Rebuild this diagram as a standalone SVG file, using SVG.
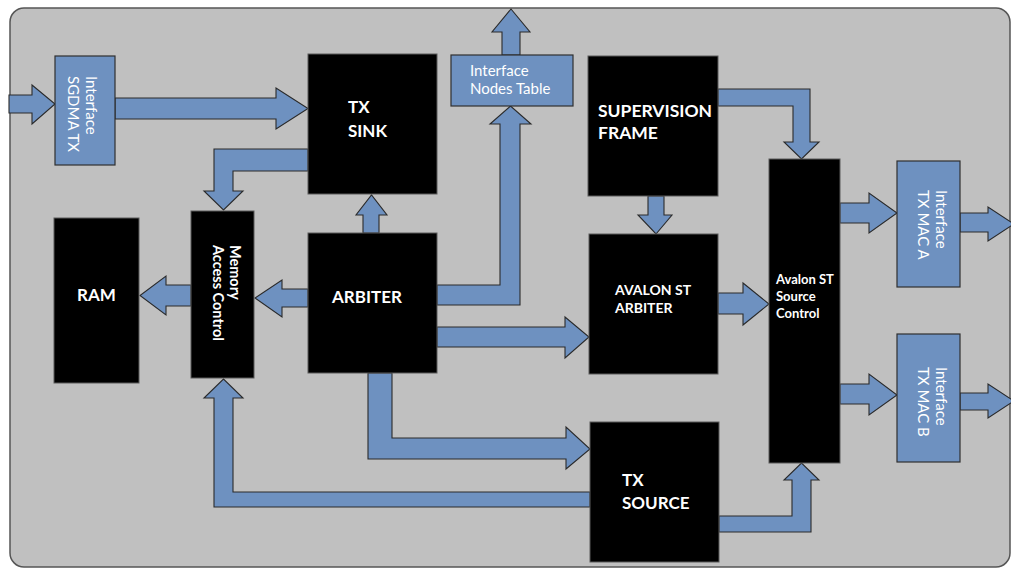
<svg xmlns="http://www.w3.org/2000/svg" width="1011" height="571" viewBox="0 0 1011 571">
  <style>
    .bg { fill: #c0c0c0; stroke: #555; stroke-width: 1.5; }
    .blk { fill: #000; stroke: #5a5a5a; stroke-width: 1; }
    .ifc { fill: #6e91c0; stroke: #2f2f2f; stroke-width: 1.2; }
    .arr { fill: #6e91c0; stroke: #2a2a2a; stroke-width: 1.1; stroke-linejoin: miter; }
    .big { font-family: Lato, "Liberation Sans", sans-serif; font-weight: bold; font-size: 17px; fill: #fff; }
    .mid { font-family: Lato, "Liberation Sans", sans-serif; font-weight: bold; font-size: 14px; fill: #fff; }
    .sml { font-family: Lato, "Liberation Sans", sans-serif; font-weight: bold; font-size: 13px; fill: #fff; }
    .reg { font-family: Lato, "Liberation Sans", sans-serif; font-size: 15px; fill: #fff; }
  </style>

  <rect width="1011" height="571" fill="#fff"/>
  <rect class="bg" x="10" y="8" width="1000" height="559" rx="14" ry="14"/>

  <g id="connectors">
    <!-- external input into SGDMA interface -->
    <polygon class="arr" points="9,95 32,95 32,85 55,104 32,124 32,113 9,113"/>
    <!-- SGDMA -> TX SINK -->
    <polygon class="arr" points="115,98 276,98 276,88 308,108.5 276,129 276,119 115,119"/>
    <!-- TX SINK -> Memory Access Control -->
    <polygon class="arr" points="308,149 214,149 214,191 204,191 223.5,210 243,191 233,191 233,171 308,171"/>
    <!-- ARBITER -> TX SINK -->
    <polygon class="arr" points="363,233 363,215 356,215 371.5,195 387,215 379,215 379,233"/>
    <!-- ARBITER -> Memory Access Control -->
    <polygon class="arr" points="308,289 282,289 282,280 255,298 282,317 282,307 308,307"/>
    <!-- Memory Access Control -> RAM -->
    <polygon class="arr" points="191,285 166,285 166,276 140,295.5 166,315 166,306 191,306"/>
    <!-- ARBITER -> Interface Nodes Table -->
    <polygon class="arr" points="437,285 500,285 500,124 490,124 510.5,106 531,124 520,124 520,305 437,305"/>
    <!-- Interface Nodes Table -> outside -->
    <polygon class="arr" points="502,55 502,32 492,32 511,9 530,32 520,32 520,55"/>
    <!-- ARBITER -> AVALON ST ARBITER -->
    <polygon class="arr" points="437,327 565,327 565,317 589,337 565,358 565,347 437,347"/>
    <!-- ARBITER -> TX SOURCE -->
    <polygon class="arr" points="368,373 368,459 566,459 566,469 590,449 566,427 566,438 392,438 392,373"/>
    <!-- TX SOURCE -> Memory Access Control -->
    <polygon class="arr" points="590,492 233,492 233,398 243,398 223.5,379 204,398 214,398 214,507 590,507"/>
    <!-- TX SOURCE -> Avalon ST Source Control -->
    <polygon class="arr" points="719,516 792,516 792,480 784,480 801.5,463 819,480 811,480 811,532 719,532"/>
    <!-- SUPERVISION FRAME -> Avalon ST Source Control -->
    <polygon class="arr" points="718,89 810,89 810,142 819,142 801.5,159 784,142 793,142 793,106 718,106"/>
    <!-- SUPERVISION FRAME -> AVALON ST ARBITER -->
    <polygon class="arr" points="648,196 648,215 638,215 656,234 672,215 664,215 664,196"/>
    <!-- AVALON ST ARBITER -> Avalon ST Source Control -->
    <polygon class="arr" points="718,293 743,293 743,283 769,304 743,325 743,314 718,314"/>
    <!-- Source Control -> TX MAC A -->
    <polygon class="arr" points="840,203 869,203 869,193 897,213 869,233 869,223 840,223"/>
    <!-- TX MAC A -> outside -->
    <polygon class="arr" points="960,213 988,213 988,207 1014,224 988,241 988,232 960,232"/>
    <!-- Source Control -> TX MAC B -->
    <polygon class="arr" points="840,384 869,384 869,374 897,395 869,415 869,404 840,404"/>
    <!-- TX MAC B -> outside -->
    <polygon class="arr" points="960,393 988,393 988,384 1014,401 988,418 988,410 960,410"/>
  </g>

  <g id="sgdma-tx">
    <rect class="ifc" x="55" y="56" width="60" height="109"/>
    <text class="reg" transform="translate(86,76) rotate(90)">Interface</text>
    <text class="reg" transform="translate(68,76) rotate(90)">SGDMA TX</text>
  </g>

  <g id="tx-sink">
    <rect class="blk" x="308" y="54" width="129" height="140"/>
    <text class="big" x="348" y="113">TX</text>
    <text class="big" x="348" y="137">SINK</text>
  </g>

  <g id="nodes-table">
    <rect class="ifc" x="451" y="55" width="122" height="51"/>
    <text class="reg" x="470" y="76">Interface</text>
    <text class="reg" x="470" y="94">Nodes Table</text>
  </g>

  <g id="supervision-frame">
    <rect class="blk" x="588" y="56" width="130" height="140"/>
    <text class="big" x="598" y="117" style="font-size:17.5px">SUPERVISION</text>
    <text class="big" x="598" y="139" style="font-size:17.5px">FRAME</text>
  </g>

  <g id="source-control">
    <rect class="blk" x="769" y="159" width="71" height="304"/>
    <text class="sml" x="776" y="284">Avalon ST</text>
    <text class="sml" x="776" y="301">Source</text>
    <text class="sml" x="776" y="318">Control</text>
  </g>

  <g id="tx-mac-a">
    <rect class="ifc" x="897" y="161" width="63" height="126"/>
    <text class="reg" transform="translate(936,190) rotate(90)">Interface</text>
    <text class="reg" transform="translate(918,190) rotate(90)">TX MAC A</text>
  </g>

  <g id="tx-mac-b">
    <rect class="ifc" x="897" y="334" width="63" height="128"/>
    <text class="reg" transform="translate(936,367) rotate(90)">Interface</text>
    <text class="reg" transform="translate(918,367) rotate(90)">TX MAC B</text>
  </g>

  <g id="ram">
    <rect class="blk" x="54" y="218" width="85" height="165"/>
    <text class="big" x="77" y="301">RAM</text>
  </g>

  <g id="memory-access">
    <rect class="blk" x="191" y="211" width="63" height="167"/>
    <text class="mid" transform="translate(230,245) rotate(90)" style="font-size:14.5px">Memory</text>
    <text class="mid" transform="translate(213,245) rotate(90)" style="font-size:14.5px">Access Control</text>
  </g>

  <g id="arbiter">
    <rect class="blk" x="308" y="233" width="129" height="140"/>
    <text class="big" x="332" y="303">ARBITER</text>
  </g>

  <g id="avalon-arbiter">
    <rect class="blk" x="589" y="234" width="129" height="140"/>
    <text class="mid" x="615" y="295">AVALON ST</text>
    <text class="mid" x="615" y="313">ARBITER</text>
  </g>

  <g id="tx-source">
    <rect class="blk" x="590" y="422" width="129" height="140"/>
    <text class="big" x="622" y="486">TX</text>
    <text class="big" x="622" y="509">SOURCE</text>
  </g>
</svg>
